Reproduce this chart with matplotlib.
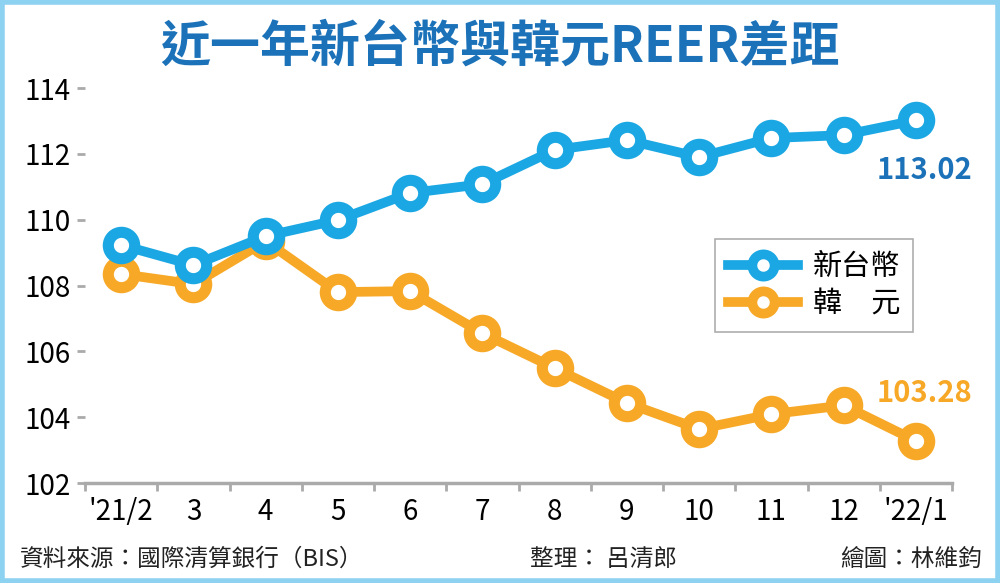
import matplotlib.pyplot as plt
import numpy as np
from matplotlib.patches import Rectangle

plt.rcParams['font.family'] = ['Noto Sans CJK TC', 'DejaVu Sans']

# data
months = ["'21/2", "3", "4", "5", "6", "7", "8", "9", "10", "11", "12", "'22/1"]
twd = [109.23, 108.62, 109.5, 109.99, 110.81, 111.08, 112.12, 112.42, 111.9, 112.48, 112.57, 113.02]
krw = [108.35, 108.04, 109.35, 107.8, 107.83, 106.55, 105.49, 104.43, 103.64, 104.09, 104.36, 103.28]
yticks = [102, 104, 106, 108, 110, 112, 114]

blue = '#1aa7e3'
orange = '#f7a826'
dark_blue = '#1b72b9'
gray = '#aaaaaa'

fig = plt.figure(figsize=(10, 5.83), dpi=100)
ax = fig.add_axes([0.085, 0.1715, 0.867, 0.6775])

x = np.arange(len(months))
ax.plot(x, krw, color=orange, lw=7, marker='o', ms=19, mew=8,
        mfc='white', mec=orange, label='韓\u3000元', clip_on=False, zorder=3)
ax.plot(x, twd, color=blue, lw=7, marker='o', ms=19, mew=8,
        mfc='white', mec=blue, label='新台幣', clip_on=False, zorder=4)

ax.text(x[-1] + 0.12, twd[-1] - 1.5, f'{twd[-1]:.2f}', color=dark_blue,
        fontsize=21, fontweight='bold', ha='center', va='center')
ax.text(x[-1] + 0.12, krw[-1] + 1.45, f'{krw[-1]:.2f}', color=orange,
        fontsize=21, fontweight='bold', ha='center', va='center')

ax.set_xlim(-0.5, len(months) - 0.5)
ax.set_ylim(102, 114)
ax.set_yticks(yticks)
ax.set_yticklabels([str(v) for v in yticks], fontsize=20)
ax.set_xticks(np.arange(-0.5, len(months), 1.0))
ax.set_xticklabels([])
ax.set_xticks(x, minor=True)
ax.set_xticklabels(months, minor=True, fontsize=20)
ax.tick_params(axis='x', which='major', length=6, width=2, color=gray, direction='out')
ax.tick_params(axis='x', which='minor', length=0, pad=10)
ax.tick_params(axis='y', length=6, width=2, color=gray, pad=4)

for s in ['top', 'right', 'left']:
    ax.spines[s].set_visible(False)
ax.spines['bottom'].set_color(gray)
ax.spines['bottom'].set_linewidth(2.5)

leg = ax.legend(handles=ax.get_lines()[::-1], loc='upper left',
                bbox_to_anchor=(0.71, 0.655), fontsize=21, frameon=True,
                fancybox=False, edgecolor='#999999', handlelength=2.4,
                borderpad=0.45, labelspacing=0.25, handletextpad=0.5)
leg.get_frame().set_linewidth(1.2)
for h in leg.get_lines():
    h.set_markersize(16)
    h.set_markeredgewidth(7)

fig.text(0.5, 0.919, '近一年新台幣與韓元REER差距', ha='center', va='center',
         fontsize=36, fontweight='bold', color=dark_blue)

fig.text(0.02, 0.04, '資料來源：國際清算銀行（BIS）', fontsize=17, va='center', color='#222222')
fig.text(0.53, 0.04, '整理： 呂清郎', fontsize=17, va='center', color='#222222')
fig.text(0.982, 0.04, '繪圖：林維鈞', fontsize=17, va='center', ha='right', color='#222222')

fig.patches.append(Rectangle((0.002, 0.003), 0.996, 0.994, transform=fig.transFigure,
                             fill=False, edgecolor='#8ed2f2', linewidth=4))

fig.savefig('out.png', dpi=100)
